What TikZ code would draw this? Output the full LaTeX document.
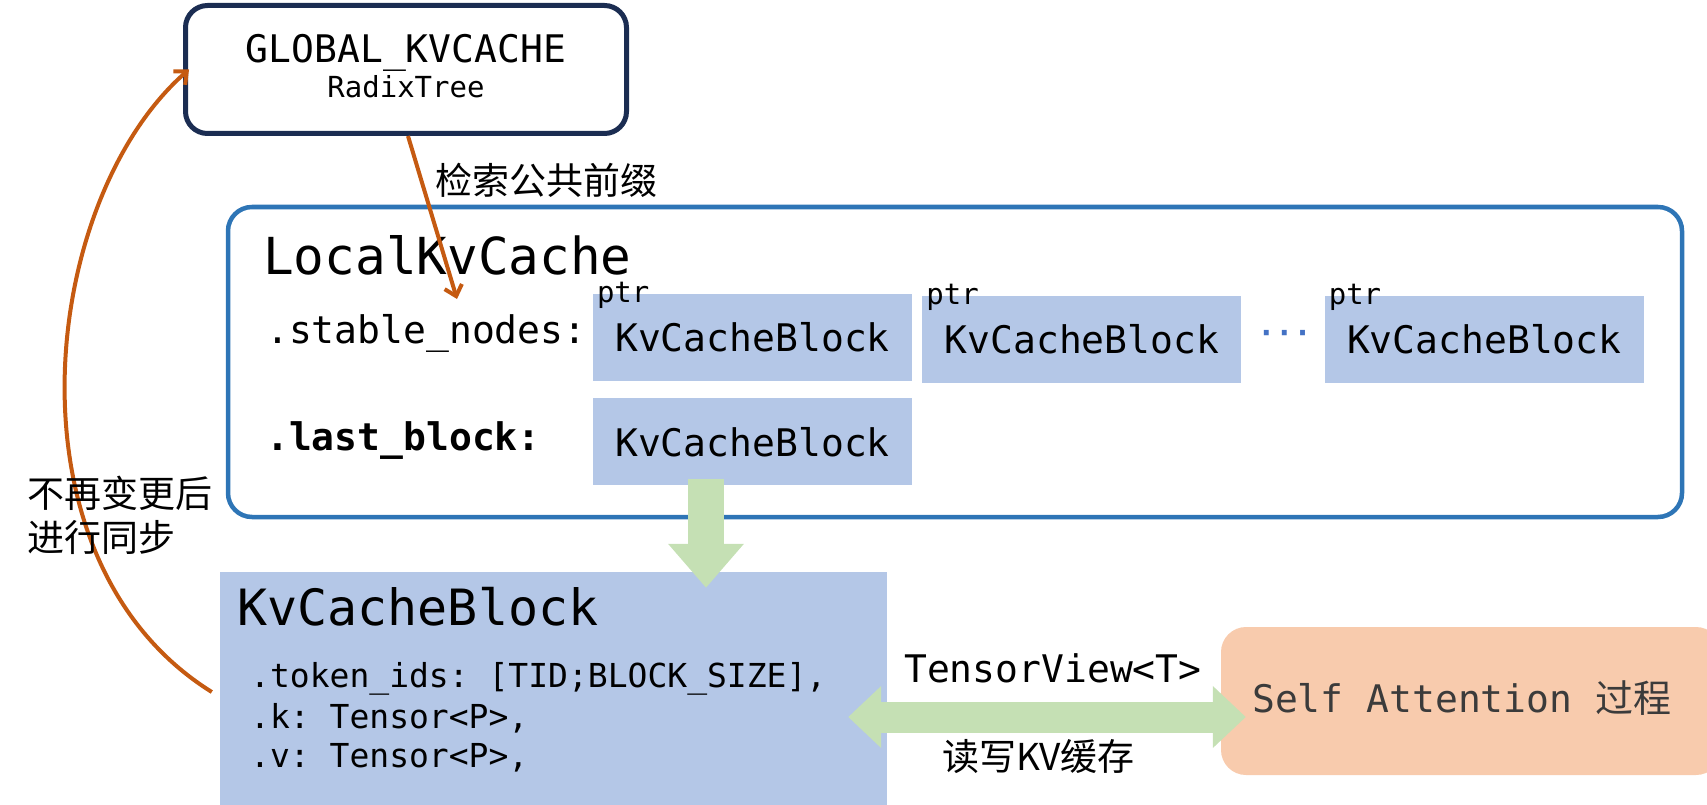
\documentclass[tikz,border=0pt]{standalone}
\usepackage{fontspec}
\setmonofont{DejaVu Sans Mono}
\newfontfamily\cjk{Noto Sans CJK SC}
\usetikzlibrary{positioning, arrows.meta}

\definecolor{navyline}{HTML}{1B2D52}
\definecolor{localline}{HTML}{2E75B6}
\definecolor{blockfill}{HTML}{B4C7E7}
\definecolor{arrowgreen}{HTML}{C5E0B4}
\definecolor{attnfill}{HTML}{F8CBAD}
\definecolor{attntext}{HTML}{3B3B3B}
\definecolor{syncorange}{HTML}{C55A11}
\definecolor{dotblue}{HTML}{4472C4}

\newcommand{\fsz}[1]{\fontsize{#1}{#1}\selectfont}

\tikzset{
  cacheblock/.style={fill=blockfill, minimum width=319pt, minimum height=87pt,
    inner sep=0pt, font=\ttfamily\fsz{38}},
  ptrtag/.style={anchor=base west, inner sep=0pt, font=\ttfamily\fsz{29}},
  fieldtext/.style={anchor=base west, inner sep=0pt, font=\ttfamily\fsz{38}},
  cjktext/.style={inner sep=0pt, font=\cjk\fsz{37}},
  fatarrow/.style={draw=arrowgreen, line width=#1},
  syncarrow/.style={draw=syncorange, line width=4pt,
    -{Straight Barb[length=10pt,width=18pt]}},
}

\begin{document}
\begin{tikzpicture}[x=1pt, y=-1pt]
	\useasboundingbox (0,0) rectangle (1707,805);

	% global radix tree
	\node[draw=navyline, line width=5pt, rounded corners=22pt, minimum width=441pt,
		minimum height=128pt] (global) at (406,69.5) {};
	\node[anchor=base, inner sep=0pt, font=\ttfamily\fsz{38}] (globalname) at (406,63)
		{GLOBAL\_KVCACHE};
	\node[anchor=base, inner sep=0pt, font=\ttfamily\fsz{29}] (globaltype) at (406,98)
		{RadixTree};

	% local cache
	\node[draw=localline, line width=4.5pt, rounded corners=24pt, minimum width=1454pt,
		minimum height=310pt] (local) at (955,362) {};
	\node[anchor=base west, inner sep=0pt, font=\ttfamily\fsz{51}] (localname) at (263,274)
		{LocalKvCache};
	\node[fieldtext] (stable) at (266,343) {.stable\_nodes:};
	\node[fieldtext, font=\ttfamily\bfseries\fsz{38}] (lastname) at (266,450) {.last\_block:};

	\node[cacheblock] (first) at (752.5,337.5) {KvCacheBlock};
	\node[cacheblock, right=10pt of first, yshift=-2pt] (second) {KvCacheBlock};
	\node[cacheblock, right=83pt of second] (third) {KvCacheBlock};
	\node[cacheblock, below=17pt of first] (last) {KvCacheBlock};
	\foreach \blk in {first, second, third}
		\node[ptrtag] at ([xshift=4pt, yshift=-9pt]\blk.north west) {ptr};
	\node[font=\ttfamily\bfseries\fsz{30}, text=dotblue, inner sep=0pt] (dots)
		at (1284.5,337) {···};

	% block detail
	\node[fill=blockfill, minimum width=667pt, minimum height=240pt, inner sep=0pt]
		(kvblock) at (553.5,692) {};
	\node[anchor=base west, inner sep=0pt, font=\ttfamily\fsz{50}] (kvname) at (237,625)
		{KvCacheBlock};
	\node[anchor=base west, inner sep=0pt, font=\ttfamily\fsz{33}] (tokens) at (250,687)
		{.token\_ids: [TID;BLOCK\_SIZE],};
	\node[anchor=base west, inner sep=0pt, font=\ttfamily\fsz{33}] (kfield) at (250,728)
		{.k: Tensor<P>,};
	\node[anchor=base west, inner sep=0pt, font=\ttfamily\fsz{33}] (vfield) at (250,767)
		{.v: Tensor<P>,};

	% attention
	\node[fill=attnfill, rounded corners=25pt, minimum width=500pt, minimum height=148pt,
		inner sep=0pt] (attn) at (1471,701) {};
	\node[anchor=base west, inner sep=0pt, text=attntext, font=\ttfamily\fsz{38}] (attnname)
		at (1252,712) {Self Attention {\cjk 过程}};

	% green arrows
	\coordinate (gtop) at ([xshift=-46.5pt, yshift=7pt]last.south);
	\coordinate (gtip) at (gtop |- kvblock.north);
	\draw[fatarrow=36pt, -{Triangle[width=73pt, length=44pt]}] (gtop) -- ([yshift=-16pt]gtip);

	\path (kvblock.east |- 0,717) ++(-39,0) coordinate (rwleft);
	\path (attn.west |- 0,717) ++(25,0) coordinate (rwright);
	\draw[fatarrow=31pt, {Triangle[width=60pt, length=33pt]}-{Triangle[width=60pt, length=33pt]}]
		(rwleft) -- (rwright);
	\node[fieldtext] (viewname) at (904,682) {TensorView<T>};
	\node[cjktext, anchor=base west] (rwname) at (942,770) {读写KV缓存};

	% orange arrows
	\coordinate (stabletip) at (457,299);
	\draw[syncarrow] ([xshift=2pt]global.south) -- (stabletip);
	\node[cjktext, anchor=west] (lookup) at (435,180) {检索公共前缀};

	\draw[syncarrow] ([xshift=-8pt]kvblock.west) .. controls (0,560) and (40,200)
		.. ([xshift=6pt]global.west);
	\node[cjktext, anchor=west, align=left, font=\cjk\fontsize{37}{44}\selectfont] (syncname)
		at (27,515) {不再变更后\\进行同步};
\end{tikzpicture}
\end{document}
